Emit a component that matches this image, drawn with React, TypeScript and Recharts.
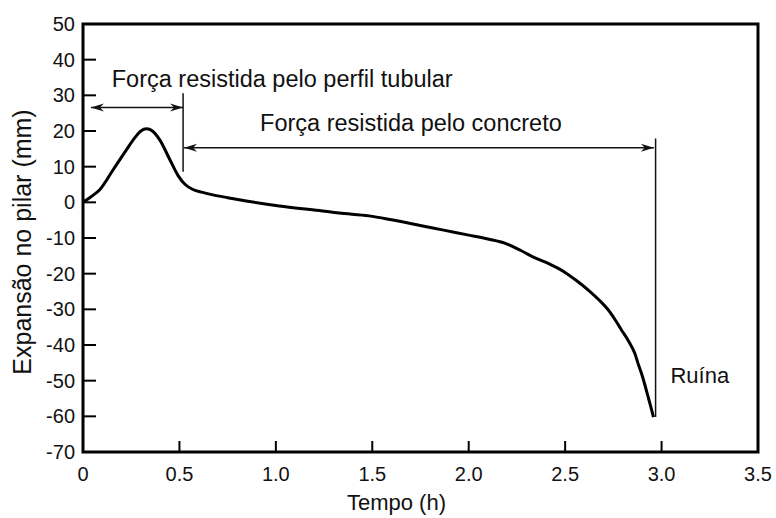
import React from 'react';
import {
  LineChart,
  Line,
  XAxis,
  YAxis,
  ReferenceLine,
  ReferenceDot,
  ReferenceArea,
} from 'recharts';

// ---- data ----
const tempo = [
  0, 0.04, 0.088, 0.157, 0.226, 0.27, 0.3, 0.33, 0.36, 0.398, 0.45, 0.493, 0.53, 0.57,
  0.62, 0.673, 0.75, 0.846, 1.018, 1.225, 1.328, 1.483, 1.6, 1.742, 1.87, 2.0, 2.1,
  2.19, 2.27, 2.344, 2.42, 2.49, 2.56, 2.62, 2.68, 2.724, 2.76, 2.792, 2.83, 2.861,
  2.88, 2.896, 2.915, 2.93, 2.945, 2.958,
];
const expansao = [
  0, 1.5, 3.6, 9.2, 14.8, 18.2, 20.0, 20.6, 20.0, 17.5, 12.0, 7.5, 5.0, 3.6,
  2.8, 2.1, 1.3, 0.4, -1.0, -2.3, -3.0, -3.8, -4.9, -6.4, -7.8, -9.2, -10.3,
  -11.5, -13.5, -15.6, -17.3, -19.3, -22.0, -24.6, -27.6, -30.2, -33.0, -35.8, -39.0, -42.3,
  -45.5, -48.0, -51.5, -54.5, -57.5, -60.2,
];
const xTicks = [0, 0.5, 1, 1.5, 2, 2.5, 3, 3.5];
const xTickLabels = ['0', '0.5', '1.0', '1.5', '2.0', '2.5', '3.0', '3.5'];
const yTicks = [50, 40, 30, 20, 10, 0, -10, -20, -30, -40, -50, -60, -70];
const xDomain = [0, 3.5];
const yDomain = [-70, 50];

// annotations (data coordinates)
const tuboArrow = { y: 26.6, from: 0.041, to: 0.519 };
const tuboLine = { x: 0.519, from: 30.6, to: 8.6 };
const concretoArrow = { y: 15.3, from: 0.524, to: 2.96 };
const ruinaLine = { x: 2.969, from: 17.9, to: -60.2 };
const tuboText = { x: 0.149, y: 32.4, text: 'Força resistida pelo perfil tubular' };
const concretoText = { x: 0.918, y: 19.9, text: 'Força resistida pelo concreto' };
const ruinaText = { x: 3.046, y: -50.6, text: 'Ruína' };

const data = tempo.map((t, i) => ({ t, e: expansao[i] }));

const FONT = "Arial, 'Liberation Sans', Helvetica, sans-serif";
const INK = '#111';
const TICK = 11;

const BottomTick = (p: any) => {
  const idx = xTicks.indexOf(p.payload.value);
  return (
    <g>
      <line x1={p.x} y1={p.y} x2={p.x} y2={p.y - TICK} stroke="#000" strokeWidth={2} />
      <text x={p.x} y={p.y + 29} textAnchor="middle" fontSize={20} fontFamily={FONT} fill={INK}>
        {idx >= 0 ? xTickLabels[idx] : String(p.payload.value)}
      </text>
    </g>
  );
};
const TopTick = (p: any) => (
  <line x1={p.x} y1={p.y} x2={p.x} y2={p.y + TICK} stroke="#000" strokeWidth={2} />
);
const LeftTick = (p: any) => (
  <g>
    <line x1={p.x} y1={p.y} x2={p.x + TICK + 2} y2={p.y} stroke="#000" strokeWidth={2} />
    <text x={p.x - 8} y={p.y + 7} textAnchor="end" fontSize={20} fontFamily={FONT} fill={INK}>
      {String(p.payload.value)}
    </text>
  </g>
);
const RightTick = (p: any) => (
  <line x1={p.x} y1={p.y} x2={p.x - TICK} y2={p.y} stroke="#000" strokeWidth={2} />
);

const XLabel = (p: any) => {
  const vb = p.viewBox || { x: 0, y: 0, width: 0, height: 0 };
  return (
    <text x={vb.x + vb.width / 2 - 24} y={vb.y + 58} textAnchor="middle" fontSize={22} fontFamily={FONT} fill={INK}>
      Tempo (h)
    </text>
  );
};
const YLabel = (p: any) => {
  const vb = p.viewBox || { x: 0, y: 0, width: 0, height: 0 };
  const cx = vb.x + 31;
  const cy = vb.y + vb.height / 2 + 4;
  return (
    <text x={cx} y={cy} transform={`rotate(-90, ${cx}, ${cy})`} textAnchor="middle" fontSize={25} fontFamily={FONT} fill={INK}>
      Expansão no pilar (mm)
    </text>
  );
};

const arrowHead = (tx: number, ty: number, dir: number, key: string) => {
  const L = 13;
  const W = 4;
  const N = 9;
  return (
    <polygon
      key={key}
      points={`${tx},${ty} ${tx - dir * L},${ty - W} ${tx - dir * N},${ty} ${tx - dir * L},${ty + W}`}
      fill={INK}
    />
  );
};
const DoubleArrow = (p: any) => {
  const lx = Math.min(p.x1, p.x2);
  const rx = Math.max(p.x1, p.x2);
  return (
    <g>
      <line x1={lx} y1={p.y1} x2={rx} y2={p.y2} stroke={INK} strokeWidth={1.5} />
      {arrowHead(lx, p.y1, -1, 'l')}
      {arrowHead(rx, p.y1, 1, 'r')}
    </g>
  );
};
const makeText = (text: string, size: number) => (p: any) => (
  <text x={p.cx} y={p.cy} fontSize={size} fontFamily={FONT} fill={INK}>
    {text}
  </text>
);

export default function App() {
  return (
    <div style={{ width: 776, height: 518, background: '#fff' }}>
      <style>{'body{margin:0;background:#fff}'}</style>
      <LineChart width={776} height={518} data={data} margin={{ top: 24, right: 18, left: 0, bottom: 0 }}>
        <XAxis
          dataKey="t"
          type="number"
          domain={xDomain}
          ticks={xTicks}
          allowDataOverflow
          axisLine={false}
          tickLine={false}
          tickSize={0}
          tickMargin={0}
          tick={<BottomTick />}
          height={66}
          interval={0}
          label={<XLabel />}
        />
        <XAxis
          xAxisId="top"
          orientation="top"
          type="number"
          domain={xDomain}
          ticks={xTicks}
          allowDataOverflow
          axisLine={false}
          tickLine={false}
          tickSize={0}
          tickMargin={0}
          tick={<TopTick />}
          height={0}
          interval={0}
        />
        <YAxis
          type="number"
          domain={yDomain}
          ticks={yTicks}
          allowDataOverflow
          axisLine={false}
          tickLine={false}
          tickSize={0}
          tickMargin={0}
          tick={<LeftTick />}
          width={83}
          interval={0}
          label={<YLabel />}
        />
        <YAxis
          yAxisId="right"
          orientation="right"
          type="number"
          domain={yDomain}
          ticks={yTicks}
          allowDataOverflow
          axisLine={false}
          tickLine={false}
          tickSize={0}
          tickMargin={0}
          tick={<RightTick />}
          width={0}
          interval={0}
        />
        <ReferenceArea x1={xDomain[0]} x2={xDomain[1]} y1={yDomain[0]} y2={yDomain[1]} fill="none" stroke="#000" strokeWidth={3} fillOpacity={0} />
        <ReferenceLine
          segment={[{ x: tuboArrow.from, y: tuboArrow.y }, { x: tuboArrow.to, y: tuboArrow.y }]}
          shape={DoubleArrow}
        />
        <ReferenceLine
          segment={[{ x: tuboLine.x, y: tuboLine.from }, { x: tuboLine.x, y: tuboLine.to }]}
          stroke={INK}
          strokeWidth={1.5}
        />
        <ReferenceLine
          segment={[{ x: concretoArrow.from, y: concretoArrow.y }, { x: concretoArrow.to, y: concretoArrow.y }]}
          shape={DoubleArrow}
        />
        <ReferenceLine
          segment={[{ x: ruinaLine.x, y: ruinaLine.from }, { x: ruinaLine.x, y: ruinaLine.to }]}
          stroke={INK}
          strokeWidth={1.5}
        />
        <ReferenceDot x={tuboText.x} y={tuboText.y} r={0} shape={makeText(tuboText.text, 23.5)} />
        <ReferenceDot x={concretoText.x} y={concretoText.y} r={0} shape={makeText(concretoText.text, 23.5)} />
        <ReferenceDot x={ruinaText.x} y={ruinaText.y} r={0} shape={makeText(ruinaText.text, 22)} />
        <Line
          dataKey="e"
          type="monotone"
          stroke="#000"
          strokeWidth={3}
          dot={false}
          activeDot={false}
          isAnimationActive={false}
        />
      </LineChart>
    </div>
  );
}
